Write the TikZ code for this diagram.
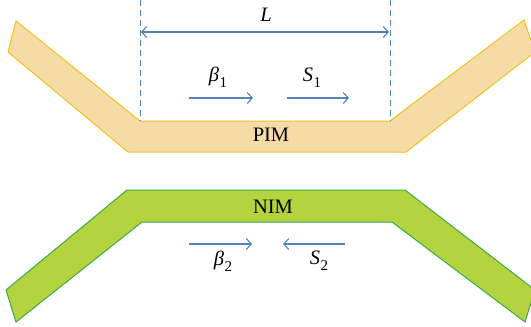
\documentclass[tikz,border=0pt]{standalone}
\usepackage{fontspec}
\setmainfont{Liberation Serif}
\usetikzlibrary{arrows.meta}
\definecolor{pimfill}{HTML}{F5DCA6}
\definecolor{pimline}{HTML}{F0C020}
\definecolor{nimfill}{HTML}{B3D33F}
\definecolor{nimline}{HTML}{3CA84A}
\definecolor{arr}{HTML}{4F81BD}
\newcommand{\mysub}[1]{\kern0.3pt\raisebox{-0.28em}{\fontsize{15}{16}\selectfont #1}}
\tikzset{
  guide/.style={draw=arr, line width=1pt, dash pattern=on 6pt off 4pt},
  wave/.style={draw=arr, line width=1.1pt, -{Straight Barb[length=5pt,width=11pt]}},
  dim/.style={draw=arr, line width=1.1pt, {Straight Barb[length=5pt,width=11pt]}-{Straight Barb[length=5pt,width=11pt]}},
  lbl/.style={inner sep=0pt, font=\fontsize{20.5}{24}\selectfont},
}
\begin{document}
\begin{tikzpicture}[x=1pt,y=-1pt]
\useasboundingbox (0,0) rectangle (531,327);
\begin{scope}
\clip (0,0) rectangle (531,327);
\fill[pimfill, draw=pimline, line width=1pt]
  (16,21) -- (140,121) -- (390,121) -- (524,20) -- (535,52) -- (406,152) -- (128,152) -- (8,52) -- cycle;
\fill[nimfill, draw=nimline, line width=1pt]
  (6,290) -- (127,190) -- (405,190) -- (535,290) -- (525,322) -- (392,222) -- (142,222) -- (16,322) -- cycle;
\end{scope}
% dashed guides
\coordinate (g1t) at (140,0);
\coordinate (g1b) at (140,121);
\coordinate (g2t) at (390,0);
\coordinate (g2b) at (390,121);
\draw[guide] (g1t) -- (g1b);
\draw[guide] (g2t) -- (g2b);
% L dimension
\coordinate (la) at (141,32);
\coordinate (lb) at (389,32);
\draw[dim] (la) -- (lb);
\node[lbl] (L) at (266,15) {\textit{L}};
% PIM arrows
\coordinate (b1s) at (189,98);
\coordinate (b1e) at (253,98);
\coordinate (s1s) at (287,98);
\coordinate (s1e) at (349,98);
\draw[wave] (b1s) -- (b1e);
\draw[wave] (s1s) -- (s1e);
\node[lbl] (beta1) at (218,77) {\textit{β}\mysub{1}};
\node[lbl] (S1) at (312,78) {\textit{S}\mysub{1}};
\node[lbl] (PIM) at (271,135) {PIM};
% NIM
\node[lbl] (NIM) at (273,207) {NIM};
\coordinate (b2s) at (189,244);
\coordinate (b2e) at (252,244);
\coordinate (s2s) at (345,244);
\coordinate (s2e) at (283,244);
\draw[wave] (b2s) -- (b2e);
\draw[wave] (s2s) -- (s2e);
\node[lbl] (beta2) at (223,261) {\textit{β}\mysub{2}};
\node[lbl] (S2) at (319,261) {\textit{S}\mysub{2}};
\end{tikzpicture}
\end{document}
